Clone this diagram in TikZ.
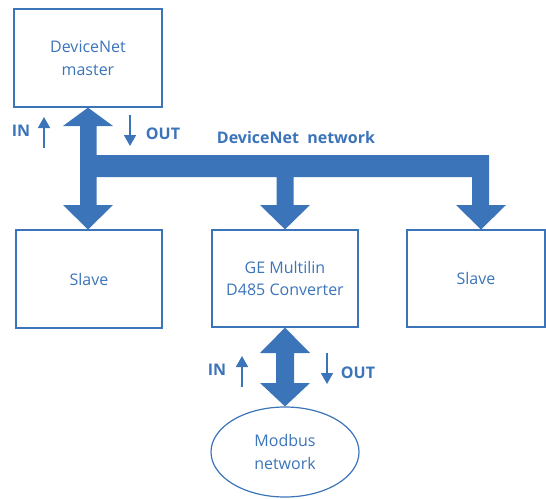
\documentclass[tikz,border=0pt]{standalone}
\usepackage{fontspec}
\setmainfont{Open Sans}
\usetikzlibrary{shapes.geometric,arrows.meta}
\definecolor{geblue}{HTML}{3C74BA}
\tikzset{
  box/.style={draw=geblue, line width=1.2pt, text=geblue, align=center, inner sep=0pt,
    font=\fontsize{16}{22.5}\selectfont},
  lbl/.style={text=geblue, font=\fontsize{16}{18}\selectfont\bfseries, inner sep=0pt},
  bigarrow/.style={fill=geblue, draw=none},
  thin/.style={draw=geblue, line width=1.7pt, -{Triangle[length=11pt,width=12pt]}}
}
\begin{document}
\begin{tikzpicture}[x=1pt,y=-1pt]
\useasboundingbox (0,0) rectangle (546,498);
% boxes
\node[box, minimum width=148pt, minimum height=98pt] (master) at (88,58) {DeviceNet\\master};
\node[box, minimum width=146pt, minimum height=98pt] (slave1) at (89,279) {Slave};
\node[box, minimum width=146pt, minimum height=97pt] (conv) at (285,278.5) {GE Multilin\\D485 Converter};
\node[box, minimum width=138pt, minimum height=97pt] (slave2) at (476,278.5) {Slave};
\node[box, ellipse, minimum width=148pt, minimum height=90pt] (modbus) at (285,452) {Modbus\\network};
% DeviceNet network bus with arrows
\fill[bigarrow] (master.south) -- (113,126) -- (96.5,126) -- (96.5,155) -- (489,155) -- (489,205)
  -- (506,205) -- (481,229.5) -- (456,205) -- (472,205) -- (472,177) -- (293.5,177) -- (293.5,205)
  -- (310,205) -- (conv.north) -- (260,205) -- (276.5,205) -- (276.5,177) -- (96.5,177)
  -- (96.5,205) -- (113,205) -- (88,229.5) -- (63,205) -- (80,205) -- (80,126) -- (63,126) -- cycle;
% converter to modbus double arrow
\fill[bigarrow] (conv.south) -- (310,353) -- (294,353) -- (294,383) -- (310,383) -- (modbus.north)
  -- (260,383) -- (276,383) -- (276,353) -- (260,353) -- cycle;
% labels
\node[lbl] (net) at (296,137) {DeviceNet\ \ network};
\node[lbl] (in1) at (21,131) {IN};
\node[lbl] (out1) at (163,134) {OUT};
\node[lbl] (in2) at (217,370) {IN};
\node[lbl] (out2) at (358,373) {OUT};
% small direction arrows
\coordinate (a1s) at (44,148); \coordinate (a1e) at (44,117);
\coordinate (a2s) at (130,115); \coordinate (a2e) at (130,146);
\coordinate (a3s) at (242,387); \coordinate (a3e) at (242,356);
\coordinate (a4s) at (327,353); \coordinate (a4e) at (327,384);
\draw[thin] (a1s) -- (a1e);
\draw[thin] (a2s) -- (a2e);
\draw[thin] (a3s) -- (a3e);
\draw[thin] (a4s) -- (a4e);
\end{tikzpicture}
\end{document}
